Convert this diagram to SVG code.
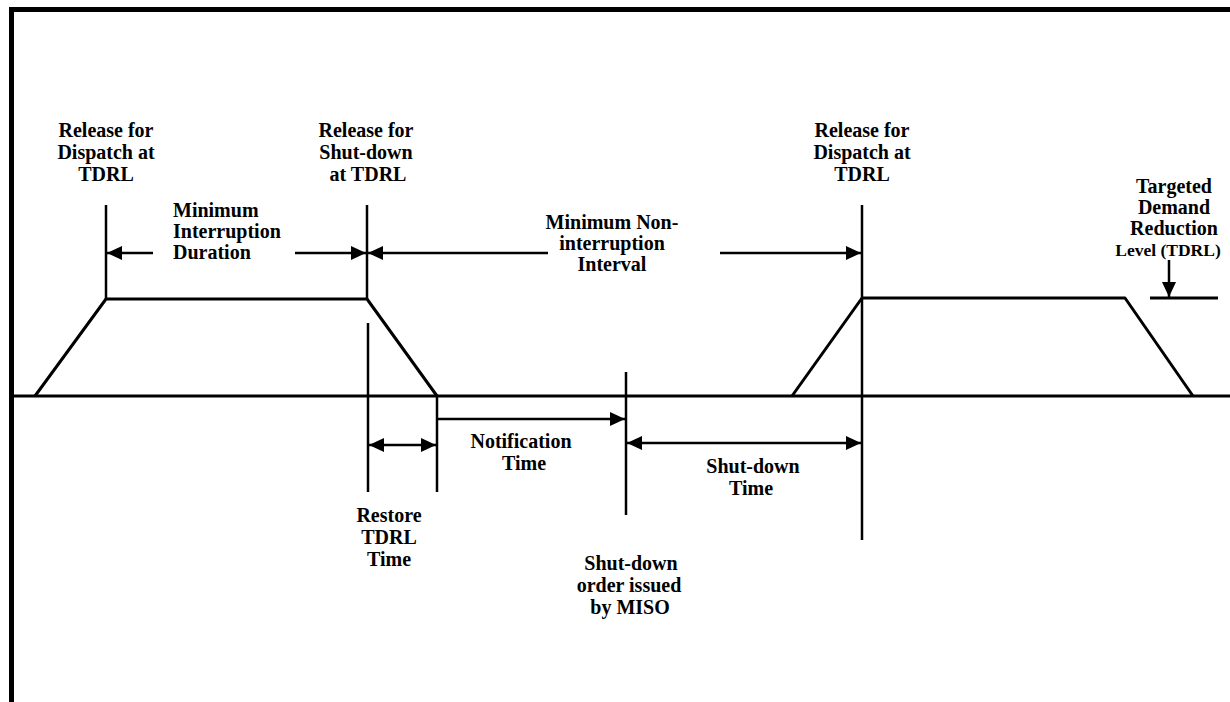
<svg xmlns="http://www.w3.org/2000/svg" width="1230" height="702" viewBox="0 0 1230 702">
<style>
  .t { font-family: "Liberation Serif", "Times New Roman", "DejaVu Serif", serif; font-weight: bold; font-size: 20px; fill: #000; text-anchor: middle; }
  .tl { text-anchor: start; }
  .ln { stroke: #000; stroke-width: 2.5; fill: none; }
  .th { stroke: #000; stroke-width: 3; fill: none; stroke-linejoin: round; }
</style>
<defs>
  <marker id="ah" markerUnits="userSpaceOnUse" markerWidth="16" markerHeight="14" refX="15" refY="7" orient="auto-start-reverse">
    <path d="M0,0 L15,7 L0,14 Z" fill="#000"/>
  </marker>
</defs>
<rect width="1230" height="702" fill="#fff"/>
<g id="frame">
  <rect x="9" y="7" width="1221" height="5" fill="#000"/>
  <rect x="9" y="7" width="5" height="695" fill="#000"/>
</g>
<g id="timeline">
  <line class="th" x1="12" y1="396" x2="1230" y2="396"/>
  <polyline class="th" points="35,396 106,299 367,299 437,396"/>
  <polyline class="th" points="792,396 862,298 1125,298 1193,396"/>
  <line class="th" x1="1150" y1="298" x2="1218" y2="298"/>
</g>
<g id="connectors">
  <line class="ln" x1="106" y1="205" x2="106" y2="299"/>
  <line class="ln" x1="367" y1="205" x2="367" y2="299"/>
  <line class="ln" x1="368" y1="323" x2="368" y2="492"/>
  <line class="ln" x1="437" y1="396" x2="437" y2="492"/>
  <line class="ln" x1="626" y1="372" x2="626" y2="515"/>
  <line class="ln" x1="862" y1="205" x2="862" y2="540"/>
  <line class="ln" x1="153" y1="253" x2="107" y2="253" marker-end="url(#ah)"/>
  <line class="ln" x1="295" y1="253" x2="366" y2="253" marker-end="url(#ah)"/>
  <line class="ln" x1="548" y1="253" x2="368" y2="253" marker-end="url(#ah)"/>
  <line class="ln" x1="720" y1="253" x2="861" y2="253" marker-end="url(#ah)"/>
  <line class="ln" x1="1169" y1="260" x2="1169" y2="297" marker-end="url(#ah)"/>
  <line class="ln" x1="437" y1="419" x2="625" y2="419" marker-end="url(#ah)"/>
  <line class="ln" x1="369" y1="445" x2="436" y2="445" marker-start="url(#ah)" marker-end="url(#ah)"/>
  <line class="ln" x1="627" y1="443" x2="861" y2="443" marker-start="url(#ah)" marker-end="url(#ah)"/>
</g>
<g id="release-dispatch-1">
  <text class="t" x="106" y="137">Release for</text>
  <text class="t" x="106" y="159">Dispatch at</text>
  <text class="t" x="106" y="181">TDRL</text>
</g>
<g id="release-shutdown">
  <text class="t" x="366" y="137">Release for</text>
  <text class="t" x="366" y="159">Shut-down</text>
  <text class="t" x="368" y="181">at TDRL</text>
</g>
<g id="release-dispatch-2">
  <text class="t" x="862" y="137">Release for</text>
  <text class="t" x="862" y="159">Dispatch at</text>
  <text class="t" x="862" y="181">TDRL</text>
</g>
<g id="tdrl-label">
  <text class="t" x="1174" y="193">Targeted</text>
  <text class="t" x="1174" y="214">Demand</text>
  <text class="t" x="1174" y="235">Reduction</text>
  <text class="t" x="1168" y="256" style="font-size:17.5px">Level (TDRL)</text>
</g>
<g id="min-interruption">
  <text class="t tl" x="173" y="217">Minimum</text>
  <text class="t tl" x="173" y="238">Interruption</text>
  <text class="t tl" x="173" y="259">Duration</text>
</g>
<g id="min-non-interruption">
  <text class="t" x="612" y="229">Minimum Non-</text>
  <text class="t" x="612" y="250">interruption</text>
  <text class="t" x="612" y="271">Interval</text>
</g>
<g id="notification">
  <text class="t" x="521" y="448">Notification</text>
  <text class="t" x="524" y="470">Time</text>
</g>
<g id="shutdown-time">
  <text class="t" x="753" y="473">Shut-down</text>
  <text class="t" x="751" y="495">Time</text>
</g>
<g id="restore">
  <text class="t" x="389" y="522">Restore</text>
  <text class="t" x="389" y="544">TDRL</text>
  <text class="t" x="389" y="566">Time</text>
</g>
<g id="shutdown-order">
  <text class="t" x="631" y="570">Shut-down</text>
  <text class="t" x="629" y="592">order issued</text>
  <text class="t" x="630" y="614">by MISO</text>
</g>
</svg>
